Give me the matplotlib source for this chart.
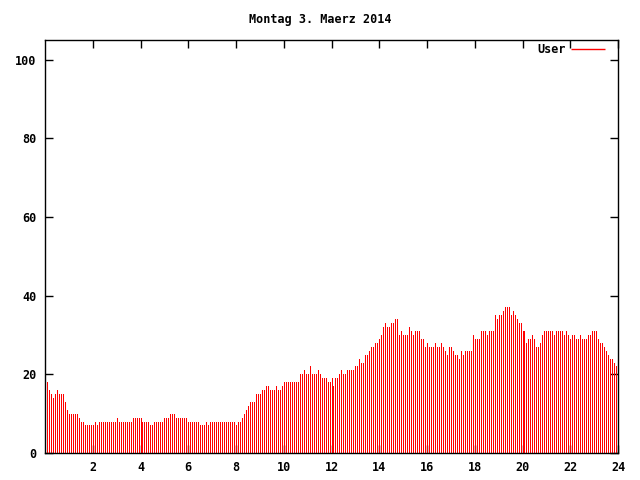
import numpy as np
import matplotlib
matplotlib.use("Agg")
import matplotlib.pyplot as plt

title = "Montag 3. Maerz 2014"
series_label = "User"

seg_00_04 = [18,16,15,14,15,16,15,15,15,13,11,10,10,10,10,10,9,8,8,7,7,7,7,7,8,7,
             8,8,8,8,8,8,8,8,8,9,8,8,8,8,8,8,8,9,9,9,9,9]
seg_04_08 = [8,8,8,8,7,7,8,8,8,8,8,9,9,9,10,10,10,9,9,9,9,9,9,8,8,8,8,8,8,7,7,7,8,7,
             8,8,8,8,8,8,8,8,8,8,8,8,8,7]
seg_08_12 = [8,8,9,10,11,12,13,13,13,15,15,15,16,16,17,17,16,16,16,17,16,16,17,
             18,18,18,18,18,18,18,18,20,20,21,20,20,22,20,20,20,21,20,19,19,19,18,18,19]
seg_12_16 = [17,19,19,20,21,20,20,21,21,21,21,22,22,24,23,23,25,25,26,27,27,28,28,29,
             30,32,33,32,32,33,33,34,34,30,31,30,30,30,32,31,30,31,31,31,29,29,27,28]
seg_16_20 = [27,27,27,28,27,27,28,27,26,25,27,27,26,25,25,24,26,25,26,26,26,26,30,29,
             29,29,31,31,31,30,31,31,31,35,34,35,35,36,37,37,37,35,36,35,34,33,33,31]
seg_20_24 = [31,28,29,29,30,29,27,27,28,30,31,31,31,31,31,30,31,31,31,31,30,31,30,29,
             30,30,29,29,30,29,29,29,30,30,31,31,31,29,28,28,27,26,25,24,24,23,22,23]

users = np.array(seg_00_04 + seg_04_08 + seg_08_12 + seg_12_16 + seg_16_20 + seg_20_24)
hours = np.arange(1, len(users) + 1) * 5 / 60.0

x_ticks = list(range(2, 25, 2))
y_ticks = list(range(0, 101, 20))

font = {"family": "DejaVu Sans Mono", "weight": "bold", "size": 8.5}

fig = plt.figure(figsize=(6.4, 4.8), dpi=100)
ax = fig.add_axes([45/640, 27/480, 573/640, 413/480])

ax.vlines(hours, 0, users, colors="#ff0000", linewidth=0.5,
          antialiased=False, label=series_label)

ax.set_xlim(0, 24)
ax.set_ylim(0, 105)
ax.set_xticks(x_ticks)
ax.set_yticks(y_ticks)
ax.set_xticklabels([str(t) for t in x_ticks], fontdict=font)
ax.set_yticklabels([str(t) for t in y_ticks], fontdict=font)
ax.tick_params(direction="in", length=6, width=1, top=True, right=True,
               pad=6, colors="black")
for s in ax.spines.values():
    s.set_linewidth(1)
    s.set_color("black")

fig.text(0.5, 1 - 19/480, title, ha="center", va="center", **font)

leg = ax.legend(loc="upper right", bbox_to_anchor=((605 - 45) / 573, 1 - 3 / 413),
                frameon=False, markerfirst=False, borderaxespad=0, borderpad=0,
                handlelength=2.9, handletextpad=0.45,
                prop={"family": "DejaVu Sans Mono", "weight": "bold", "size": 8.5})
for h in leg.legend_handles:
    h.set_linewidth(1)

fig.savefig("out.png", dpi=100)
